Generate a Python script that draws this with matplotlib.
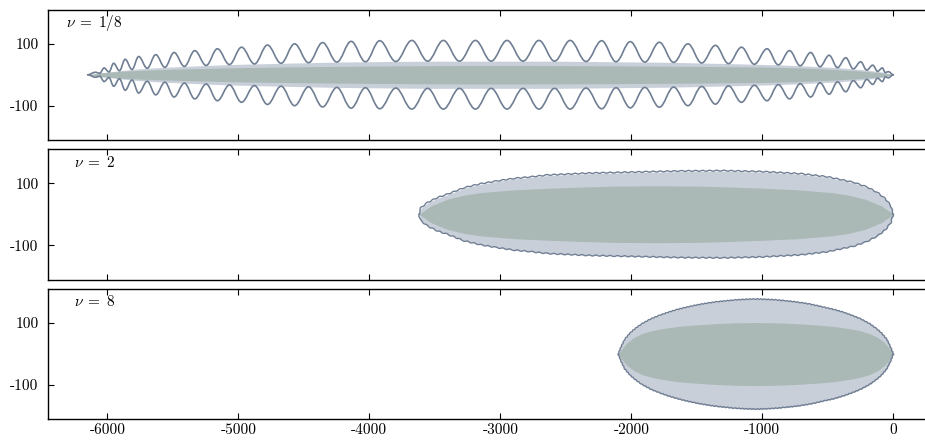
import numpy as np
import matplotlib
matplotlib.use('Agg')
import matplotlib.pyplot as plt
from matplotlib.path import Path
from matplotlib.patches import PathPatch

plt.rcParams['font.family'] = 'cmr10'
plt.rcParams['mathtext.fontset'] = 'cm'
plt.rcParams['axes.unicode_minus'] = False

# ---------------- data ----------------
nu_labels = [r'$\nu\;=\;1/8$', r'$\nu\;=\;2$', r'$\nu\;=\;8$']

x_ticks = [-6000, -5000, -4000, -3000, -2000, -1000, 0]
x_tick_labels = ['-6000', '-5000', '-4000', '-3000', '-2000', '-1000', '0']
y_ticks = [-100, 100]
y_tick_labels = ['-100', '100']

# Panel 1 (nu = 1/8): oscillating outline (symmetric about 0)
p1_ends = [-6150, 0]
p1_peak_x = [-6092, -6025, -5952, -5864, -5761, -5631, -5491, -5333, -5160,
             -4976, -4778, -4571, -4357, -4139, -3921, -3676, -3435, -3190,
             -2949, -2705, -2467, -2226, -2008, -1786, -1568, -1358, -1159,
             -964, -792, -631, -490, -363, -249, -157, -84, -38]
p1_peak_h = [8, 22, 37, 50, 59, 65, 72, 78, 84,
             89, 96, 100, 104, 108, 110, 111, 111, 111,
             111, 111, 111, 110, 107, 105, 100, 95, 89,
             84, 78, 72, 63, 55, 42, 31, 22, 10]
p1_trough_x = [-6058, -5988, -5908, -5812, -5696, -5561, -5412, -5246, -5068,
               -4877, -4674, -4464, -4248, -4030, -3798, -3555, -3312, -3070,
               -2827, -2586, -2346, -2117, -1897, -1677, -1463, -1258, -1061,
               -878, -711, -560, -426, -306, -203, -120, -61]
p1_trough_h = [5, 9, 13, 17, 21, 24, 27, 30, 33,
               35, 37, 39, 41, 42, 43, 44, 44, 44,
               44, 44, 43, 42, 41, 40, 38, 36, 34,
               32, 29, 26, 23, 19, 15, 11, 7]
p1_dark_x = [-6150, -6050, -5900, -5700, -5400, -5000, -4500, -4000, -3500,
             -3075, -2500, -2000, -1500, -1000, -700, -450, -250, -100, 0]
p1_dark_h = [0, 6, 11, 15, 19, 23, 26, 28, 29.5,
             30, 29.5, 28.5, 27, 25, 22, 17, 12, 7, 0]

# Panel 2 (nu = 2)
p2_x = [-3620, -3615, -3607, -3556, -3480, -3403, -3276, -3148, -3021, -2894,
        -2766, -2638, -2485, -2332, -2129, -1873, -1618, -1300, -1000, -700,
        -500, -300, -200, -120, -60, -20, 0]
p2_line_h = [0, 12, 21, 38, 54, 65, 86, 99, 108, 116,
             121, 127, 130, 133, 135, 137.5, 140, 141, 138, 131,
             121, 103, 88, 70, 50, 28, 0]
p2_light_h = [0, 10, 19, 36, 52, 63, 84, 97, 106, 114,
              119, 125, 128, 131, 133, 135.5, 138, 139, 136, 129,
              119, 101, 86, 68, 48, 26, 0]
p2_dark_x = [-3620, -3530, -3403, -3276, -3148, -2894, -2638, -2383, -2129,
             -1810, -1491, -1237, -982, -726, -472, -344, -217, -90, 0]
p2_dark_h = [0, 27, 49, 62, 70, 79, 84, 88, 91,
             92, 91, 88, 84, 79, 70, 62, 49, 27, 0]

# Panel 3 (nu = 8)
p3_x = [-2100, -2080, -2050, -2010, -1975, -1920, -1850, -1780, -1720, -1650,
        -1590, -1520, -1465, -1400, -1340, -1270, -1210, -1130, -1050,
        -970, -890, -830, -760, -700, -635, -585, -520, -450, -380, -320,
        -250, -180, -125, -90, -50, -20, 0]
p3_line_h = [0, 22, 48, 68, 81, 98, 114, 126, 135, 144,
             150.5, 157, 161.5, 166, 169.5, 172.5, 175, 177, 178,
             177, 175, 172.5, 169.5, 166, 161.5, 157, 150.5, 144, 135, 126,
             114, 98, 81, 68, 48, 22, 0]
p3_dark_x = [-2100, -2060, -2030, -1980, -1920, -1850, -1780, -1720, -1650,
             -1550, -1465, -1350, -1210, -1050, -890, -750, -635, -550,
             -450, -380, -320, -250, -180, -120, -70, -40, 0]
p3_dark_h = [0, 24, 38, 54, 66, 75, 81, 85, 89,
             93, 95.5, 98.5, 101, 102, 101, 98.5, 95.5, 93,
             89, 85, 81, 75, 66, 54, 38, 24, 0]

# ---------------- style ----------------
LINE = '#6f7e93'
LIGHT = '#c9cfd9'
DARK = '#aab9b6'

fig = plt.figure(figsize=(9.25, 4.43), dpi=100)
left, width, height = 48.3 / 925, 1 - 48.3 / 925 + 0.002, 130.5 / 443
bottoms = [1 - 140 / 443, 1 - 279.5 / 443, 1 - 419.3 / 443]
axes = [fig.add_axes([left, b, width, height]) for b in bottoms]


def sym_fill(ax, xs, hs, color, z):
    xs = np.asarray(xs, float)
    hs = np.asarray(hs, float)
    ax.fill_between(xs, -hs, hs, color=color, lw=0, zorder=z)


def wave_path(xs, ys, k=0.3642):
    verts = [(xs[0], ys[0])]
    codes = [Path.MOVETO]
    for i in range(1, len(xs)):
        x0, y0, x1, y1 = xs[i - 1], ys[i - 1], xs[i], ys[i]
        dx = x1 - x0
        verts += [(x0 + k * dx, y0), (x1 - k * dx, y1), (x1, y1)]
        codes += [Path.CURVE4] * 3
    return Path(verts, codes)


# Panel 1
ax = axes[0]
lx = [p1_ends[0]] + p1_trough_x + [p1_ends[1]]
lh = [0] + p1_trough_h + [0]
sym_fill(ax, lx, lh, LIGHT, 1)
sym_fill(ax, p1_dark_x, p1_dark_h, DARK, 2)
ex, eh = [p1_ends[0]], [0]
for i in range(len(p1_peak_x)):
    ex.append(p1_peak_x[i]); eh.append(p1_peak_h[i])
    if i < len(p1_trough_x):
        ex.append(p1_trough_x[i]); eh.append(p1_trough_h[i])
ex.append(p1_ends[1]); eh.append(0)
for sgn in (1, -1):
    pp = PathPatch(wave_path(ex, [sgn * h for h in eh]), fill=False,
                   edgecolor=LINE, lw=1.2, zorder=3, capstyle='round')
    ax.add_patch(pp)

# Panel 2
ax = axes[1]
sym_fill(ax, p2_x, p2_light_h, LIGHT, 1)
sym_fill(ax, p2_dark_x, p2_dark_h, DARK, 2)
for sgn in (1, -1):
    ln, = ax.plot(p2_x, [sgn * h for h in p2_line_h], color=LINE, lw=1.0,
                  zorder=3)
    ln.set_sketch_params(scale=0.5, length=7, randomness=1.0)

# Panel 3
ax = axes[2]
sym_fill(ax, p3_x, p3_line_h, LIGHT, 1)
sym_fill(ax, p3_dark_x, p3_dark_h, DARK, 2)
for sgn in (1, -1):
    ln, = ax.plot(p3_x, [sgn * h for h in p3_line_h], color=LINE, lw=1.0,
                  zorder=3)
    ln.set_sketch_params(scale=0.4, length=3.5, randomness=1.0)

label_x = [0.0205, 0.0296, 0.0296]
for i, ax in enumerate(axes):
    ax.set_xlim(-6451, 256)
    ax.set_ylim(-211, 211)
    ax.set_xticks(x_ticks)
    ax.set_yticks(y_ticks)
    ax.set_yticklabels(y_tick_labels)
    if i == 2:
        ax.set_xticklabels(x_tick_labels)
    else:
        ax.set_xticklabels([])
    ax.tick_params(axis='x', direction='in', length=4, width=0.8,
                   top=True, bottom=True, labelsize=11, pad=3)
    ax.tick_params(axis='y', direction='in', length=4, width=0.8,
                   left=True, right=False, labelsize=11, pad=7)
    for s in ('top', 'bottom', 'left'):
        ax.spines[s].set_linewidth(1.0)
    ax.spines['right'].set_visible(False)
    ax.text(label_x[i], 1 - 17.5 / 130.5, nu_labels[i], transform=ax.transAxes,
            fontsize=11, va='baseline', ha='left')

fig.savefig('out.png', dpi=100)
